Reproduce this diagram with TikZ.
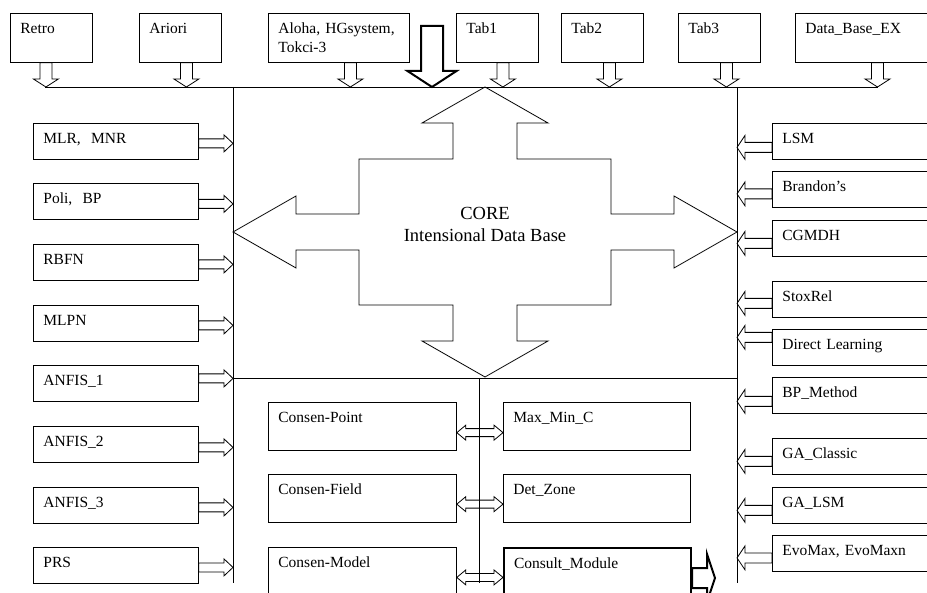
\documentclass[tikz,border=0pt]{standalone}
\usepackage{fontspec}
\setmainfont{Liberation Serif}
\usetikzlibrary{calc}
\newcommand{\boxfont}{\fontsize{15.5}{19.5}\selectfont}
\newcommand{\corefont}{\fontsize{18.5}{22}\selectfont}
\tikzset{
	hollowS/.style n args={3}{to path={let \p1=(\tikztostart), \p2=(\tikztotarget) in
		(\x1-#1,\y1) -- (\x1-#1,\y2+#3) -- (\x1-#2,\y2+#3) -- (\x1,\y2) -- (\x1+#2,\y2+#3) -- (\x1+#1,\y2+#3) -- (\x1+#1,\y1) -- cycle}},
	hollowE/.style n args={3}{to path={let \p1=(\tikztostart), \p2=(\tikztotarget) in
		(\x1,\y1+#1) -- (\x2-#3,\y1+#1) -- (\x2-#3,\y1+#2) -- (\x2,\y1) -- (\x2-#3,\y1-#2) -- (\x2-#3,\y1-#1) -- (\x1,\y1-#1) -- cycle}},
	hollowW/.style n args={3}{to path={let \p1=(\tikztostart), \p2=(\tikztotarget) in
		(\x1,\y1+#1) -- (\x2+#3,\y1+#1) -- (\x2+#3,\y1+#2) -- (\x2,\y1) -- (\x2+#3,\y1-#2) -- (\x2+#3,\y1-#1) -- (\x1,\y1-#1) -- cycle}},
	hollowLR/.style n args={3}{to path={let \p1=(\tikztostart), \p2=(\tikztotarget) in
		(\x1,\y1) -- (\x1+#3,\y1+#2) -- (\x1+#3,\y1+#1) -- (\x2-#3,\y1+#1) -- (\x2-#3,\y1+#2) -- (\x2,\y1)
		-- (\x2-#3,\y1-#2) -- (\x2-#3,\y1-#1) -- (\x1+#3,\y1-#1) -- (\x1+#3,\y1-#2) -- cycle}}
}

\begin{document}
\begin{tikzpicture}[x=1pt,y=-1pt,line width=0.8pt,
	box/.style={draw,anchor=north west,inner xsep=10pt,inner ysep=0pt,align=left,text height=20pt,font=\boxfont},
	tbox/.style={box,text width=62pt,text depth=29pt},
	lbox/.style={box,text width=145pt,text depth=16pt},
	rbox/.style={box,text width=155pt,text depth=16pt},
	cbox/.style={box,text width=168pt,text depth=28.5pt},
	arrS/.style={hollowS={6pt}{12.5pt}{8pt}},
	arrE/.style={hollowE={4.5pt}{8.5pt}{9pt}},
	arrW/.style={hollowW={5pt}{12pt}{8pt}},
	arrLR/.style={hollowLR={4pt}{7.5pt}{9pt}},
	bigS/.style={hollowS={11pt}{24.5pt}{16pt},line width=2pt},
	bigE/.style={hollowE={10pt}{24pt}{8pt},line width=2pt}]
	\clip (0,0) rectangle (927,593);
	% bus lines
	\coordinate (tl) at (45,87);
	\coordinate (tr) at (878,87);
	\coordinate (cl) at (233,87);
	\coordinate (cr) at (737,87);
	\coordinate (ml) at (233,378);
	\coordinate (mr) at (737,378);
	\coordinate (mc) at (479,378);
	\draw (tl) -- (tr);
	\draw (cl) -- (233,583);
	\draw (cr) -- (737,583);
	\draw (ml) -- (mr);
	\draw (mc) -- (479,583);
	% core
	\draw (485,87) -- (548,123) -- (517,123) -- (517,159) -- (611,159) -- (611,214) -- (674,214) -- (674,196)
		-- (737,232) -- (674,268) -- (674,250) -- (611,250) -- (611,305) -- (517,305) -- (517,341) -- (548,341)
		-- (485,377) -- (422,341) -- (453,341) -- (453,305) -- (359,305) -- (359,250) -- (296,250) -- (296,268)
		-- (233,232) -- (296,196) -- (296,214) -- (359,214) -- (359,159) -- (453,159) -- (453,123) -- (422,123) -- cycle;
	\node (core) at (485,220) [anchor=base,font=\corefont] {CORE};
	\node (idb) at (485,242) [anchor=base,font=\corefont] {Intensional Data Base};
	% top row
	\node (retro) at (10,13) [tbox] {Retro};
	\node (ariori) at (139,13) [tbox] {Ariori};
	\node (aloha) at (268,13) [tbox,text width=121pt] {Aloha,~HGsystem,\\Tokci-3};
	\node (tab1) at (456,13) [tbox] {Tab1};
	\node (tab2) at (561,13) [tbox] {Tab2};
	\node (tab3) at (678,13) [tbox] {Tab3};
	\node (dbex) at (795,13) [tbox,text width=130pt] {Data\_Base\_EX};
	\draw[arrS] ([xshift=-5.5pt]retro.south) to (tl);
	\draw[arrS] ([xshift=6pt]ariori.south) to (tl);
	\draw[arrS] ([xshift=11.5pt]aloha.south) to (tl);
	\draw[arrS] ([xshift=5.5pt]tab1.south) to (tl);
	\draw[arrS] ([xshift=7pt]tab2.south) to (tl);
	\draw[arrS] ([xshift=7pt]tab3.south) to (tl);
	\draw[arrS] ([xshift=82.5pt]dbex.south west) to (tl);
	\coordinate (in) at (432,26);
	\draw[bigS] (in) to (tl);
	% left column
	\node (mlr) at (33,123) [lbox] {MLR,~~MNR};
	\node (poli) at (33,183.5) [lbox] {Poli,~~BP};
	\node (rbfn) at (33,244) [lbox] {RBFN};
	\node (mlpn) at (33,305) [lbox] {MLPN};
	\node (anfis1) at (33,365.5) [lbox] {ANFIS\_1};
	\node (anfis2) at (33,426) [lbox] {ANFIS\_2};
	\node (anfis3) at (33,487) [lbox] {ANFIS\_3};
	\node (prs) at (33,547) [lbox] {PRS};
	\draw[arrE] ([yshift=-2pt]mlr.east) to (cl);
	\draw[arrE] ([yshift=-2pt]poli.east) to (cl);
	\draw[arrE] ([yshift=-2pt]rbfn.east) to (cl);
	\draw[arrE] ([yshift=-2pt]mlpn.east) to (cl);
	\draw[arrE] ([yshift=5.5pt]anfis1.east) to (cl);
	\draw[arrE] ([yshift=-3pt]anfis2.east) to (cl);
	\draw[arrE] ([yshift=-2pt]anfis3.east) to (cl);
	\draw[arrE] ([yshift=-2pt]prs.east) to (cl);
	% right column
	\node (lsm) at (772,123) [rbox] {LSM};
	\node (brandon) at (772,171.5) [rbox] {Brandon’s};
	\node (cgmdh) at (772,220) [rbox] {CGMDH};
	\node (stox) at (772,281) [rbox] {StoxRel};
	\node (direct) at (772,329) [rbox] {Direct Learning};
	\node (bpm) at (772,377) [rbox] {BP\_Method};
	\node (gacl) at (772,438) [rbox] {GA\_Classic};
	\node (galsm) at (772,487) [rbox] {GA\_LSM};
	\node (evo) at (772,535) [rbox] {EvoMax, EvoMaxn};
	\draw[arrW] ([yshift=-6pt]lsm.west) to (cr);
	\draw[arrW] ([yshift=-4pt]brandon.west) to (cr);
	\draw[arrW] ([yshift=-5pt]cgmdh.west) to (cr);
	\draw[arrW] ([yshift=-4pt]stox.west) to (cr);
	\draw[arrW] ([yshift=10pt]direct.west) to (cr);
	\draw[arrW] ([yshift=-6pt]bpm.west) to (cr);
	\draw[arrW] ([yshift=-5pt]gacl.west) to (cr);
	\draw[arrW] ([yshift=-5pt]galsm.west) to (cr);
	\draw[arrW] ([yshift=-4.5pt]evo.west) to (cr);
	% consensus and consulting
	\node (cpoint) at (268,402) [cbox] {Consen-Point};
	\node (cfield) at (268,474) [cbox] {Consen-Field};
	\node (cmodel) at (268,547) [cbox,text depth=40pt] {Consen-Model};
	\node (maxmin) at (503,402) [cbox,text width=167pt] {Max\_Min\_C};
	\node (detz) at (503,474) [cbox,text width=167pt] {Det\_Zone};
	\node (consult) at (503,547) [cbox,text width=167pt,text depth=40pt,line width=2pt] {Consult\_Module};
	\draw[arrLR] ([yshift=-6pt]cpoint.east) to (maxmin.west);
	\draw[arrLR] ([yshift=-5.5pt]cfield.east) to (detz.west);
	\draw[arrLR] (cmodel.east) to (consult.west);
	\coordinate (out) at (715,577);
	\draw[bigE] (consult.east) to (out);
\end{tikzpicture}
\end{document}
